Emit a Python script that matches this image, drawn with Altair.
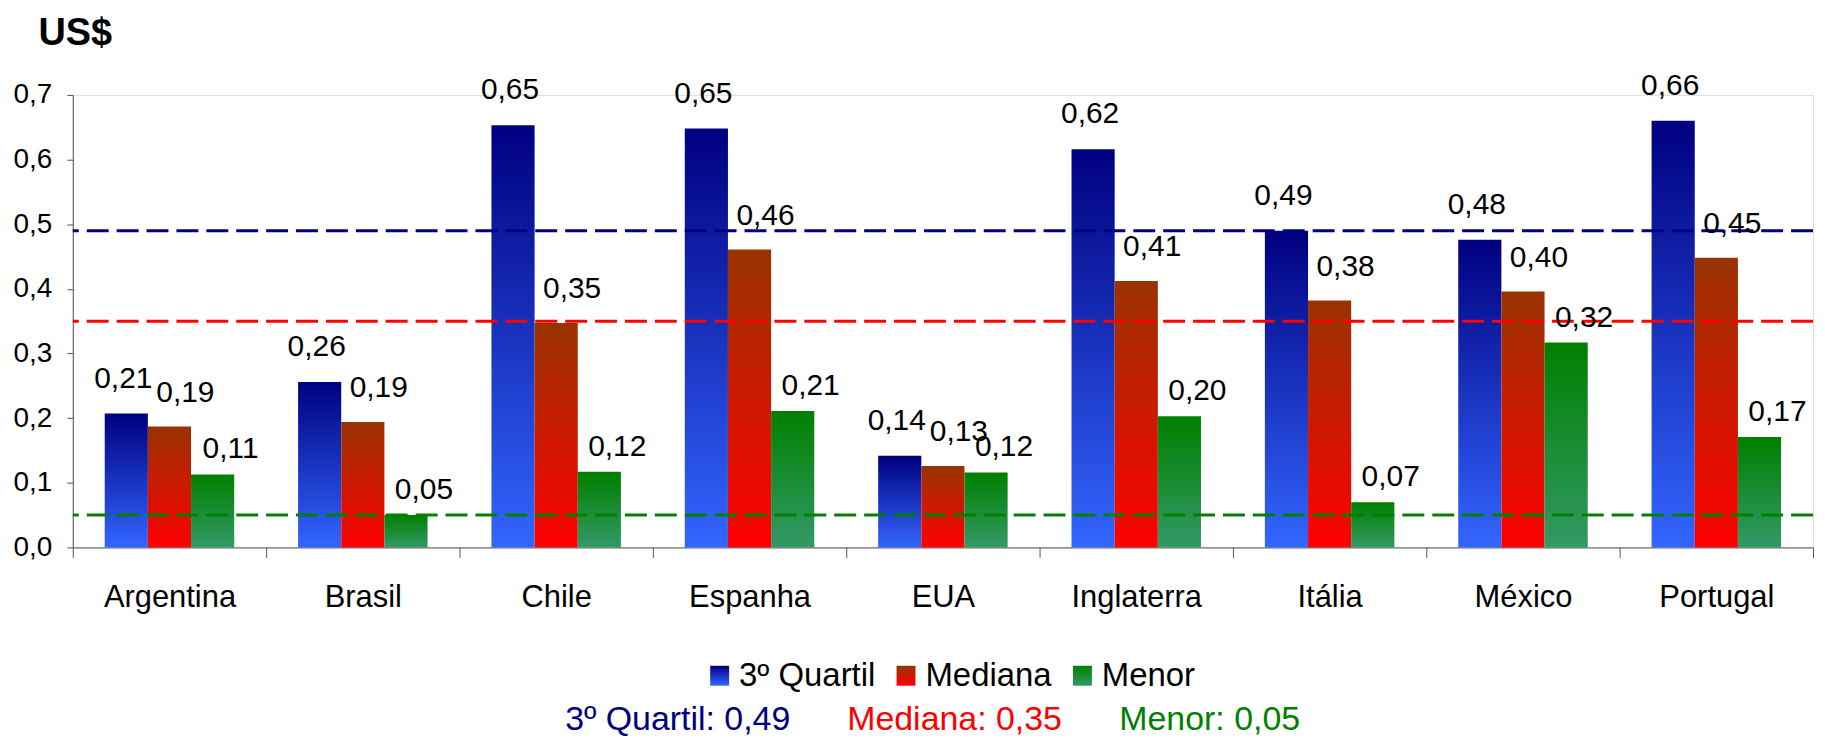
import altair as alt
import pandas as pd

FONT = "Liberation Sans"

paises = ["Argentina", "Brasil", "Chile", "Espanha", "EUA", "Inglaterra", "Itália", "México", "Portugal"]
series = ["3º Quartil", "Mediana", "Menor"]
quartil3 = [0.207, 0.256, 0.653, 0.648, 0.142, 0.616, 0.490, 0.476, 0.660]
mediana = [0.187, 0.194, 0.347, 0.461, 0.126, 0.412, 0.382, 0.396, 0.448]
menor = [0.113, 0.050, 0.117, 0.211, 0.116, 0.203, 0.070, 0.317, 0.171]

ref_labels = ["3º Quartil: 0,49", "Mediana: 0,35", "Menor: 0,05"]
ref_values = [0.49, 0.35, 0.05]

grad_top = ["#000080", "#993300", "#008000"]
grad_bottom = ["#3366FF", "#FF0000", "#339966"]
ref_colors = ["#000080", "#FF0000", "#008000"]
y_ticks = [0.0, 0.1, 0.2, 0.3, 0.4, 0.5, 0.6, 0.7]

# label offsets per series (style)
label_dx = [-3, 16, 18]
label_dy = [-26, -25, -16]

rows = []
for s, vals in zip(series, [quartil3, mediana, menor]):
    for p, v in zip(paises, vals):
        rows.append({"pais": p, "serie": s, "valor": v})
df = pd.DataFrame(rows)
ref_df = pd.DataFrame({"ref": ref_labels, "valor": ref_values})


def grad_expr(top, bottom):
    return alt.ExprRef(expr=(
        "{gradient: 'linear', x1: 0, y1: 0, x2: 0, y2: 1, "
        "stops: [{offset: 0, color: '%s'}, {offset: 1, color: '%s'}]}" % (top, bottom)))


x_enc = alt.X("pais:N", sort=paises,
              scale=alt.Scale(domain=paises, paddingInner=0, paddingOuter=0),
              axis=alt.Axis(title=None, labelAngle=0, tickBand="extent", tickSize=10,
                            labelFontSize=31, labelFont=FONT, labelColor="black",
                            labelPadding=25, domainColor="#555555", tickColor="#555555",
                            grid=False))
xoff_enc = alt.XOffset("serie:N", sort=series,
                       scale=alt.Scale(domain=series, paddingInner=0, paddingOuter=0.74))
y_enc = alt.Y("valor:Q", scale=alt.Scale(domain=[0, 0.7], nice=False, zero=True),
              axis=alt.Axis(title="US$", titleAngle=0, titleX=-35, titleY=-51,
                            titleAlign="left", titleBaseline="alphabetic",
                            titleFontSize=38, titleFontWeight="bold", titleFont=FONT,
                            titleColor="black",
                            values=y_ticks, grid=False, tickSize=6,
                            labelExpr="replace(format(datum.value, '.1f'), '.', ',')",
                            labelFontSize=28, labelFont=FONT, labelColor="black",
                            labelPadding=15, domainColor="#555555", tickColor="#555555"))

bars = alt.Chart(df).mark_bar(strokeWidth=0).encode(
    x=x_enc,
    xOffset=xoff_enc,
    y=y_enc,
    color=alt.Color("serie:N", sort=series,
                    scale=alt.Scale(domain=series,
                                    range=[grad_expr(t, b) for t, b in zip(grad_top, grad_bottom)]),
                    legend=alt.Legend(title=None, orient="none", direction="horizontal",
                                      legendX=632.5, legendY=566,
                                      symbolType="M-0.95,-1H0.95V1H-0.95Z", symbolSize=400,
                                      symbolStrokeWidth=0, symbolOpacity=1,
                                      labelFontSize=33, labelFont=FONT, labelColor="black",
                                      labelOffset=3, columnPadding=14, padding=0,
                                      labelLimit=0)),
)

rules = alt.Chart(ref_df).mark_rule(strokeDash=[22, 8], strokeWidth=3).encode(
    y=alt.Y("valor:Q"),
    stroke=alt.Stroke("ref:N", sort=ref_labels,
                      scale=alt.Scale(domain=ref_labels, range=ref_colors),
                      legend=alt.Legend(title=None, orient="none", direction="horizontal",
                                        legendX=460, legendY=610,
                                        symbolSize=0, symbolStrokeWidth=0, symbolOpacity=0,
                                        labelFontSize=34, labelFont=FONT,
                                        labelColor=alt.ExprRef(expr="scale('stroke', datum.value)"),
                                        labelOffset=0, columnPadding=23, padding=0,
                                        labelLimit=0)),
)

texts = []
for i, s in enumerate(series):
    texts.append(
        alt.Chart(df).transform_filter(alt.datum.serie == s)
        .transform_calculate(lbl="replace(format(datum.valor, '.2f'), '.', ',')")
        .mark_text(fontSize=30, font=FONT, color="black", baseline="alphabetic",
                   align="center", dx=label_dx[i], dy=label_dy[i])
        .encode(x=x_enc, xOffset=xoff_enc, y=y_enc, text="lbl:N")
    )

chart = alt.layer(bars, rules, *texts).properties(
    width=1746, height=454,
    autosize=alt.AutoSizeParams(type="none"),
    padding={"left": 65, "top": 86, "right": 4, "bottom": 190},
).configure_view(stroke=None).configure(font=FONT)

chart.save("out.html", embed_options={"renderer": "svg", "actions": False})
